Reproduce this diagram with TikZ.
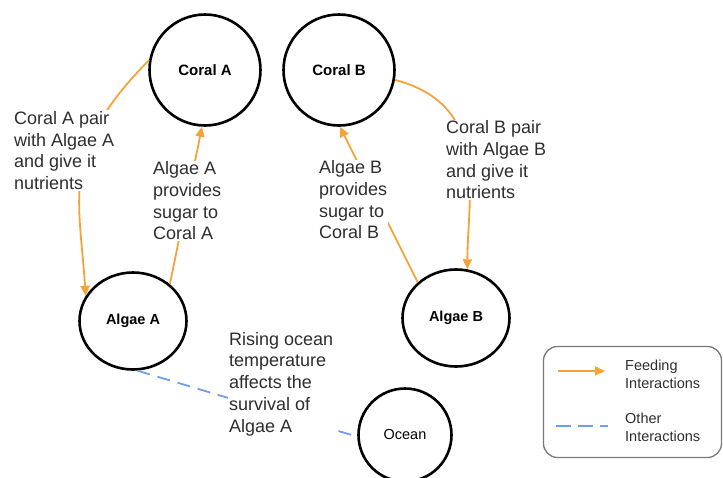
\documentclass[tikz,border=0pt]{standalone}
\usepackage{fontspec}
\setmainfont{Liberation Sans}
\usetikzlibrary{shapes.geometric,arrows.meta}

\definecolor{feed}{HTML}{F4A33A}
\definecolor{other}{HTML}{6D9EEB}
\definecolor{ink}{HTML}{2E2E2E}
\definecolor{frame}{HTML}{7A7A7A}

\begin{document}
\begin{tikzpicture}[x=1pt,y=-1pt,
  coral/.style={draw=black, line width=2.6pt, circle, minimum size=111pt, inner sep=0pt,
    font=\bfseries\fontsize{15}{18}\selectfont},
  alga/.style={draw=black, line width=2.6pt, ellipse, minimum width=107pt, minimum height=97pt,
    inner sep=0pt, font=\bfseries\fontsize{14.5}{17}\selectfont},
  sea/.style={draw=black, line width=2.6pt, circle, minimum size=93pt, inner sep=0pt,
    font=\fontsize{14.5}{17}\selectfont},
  note/.style={fill=white, inner sep=1pt, align=left, anchor=west, text=ink,
    font=\fontsize{18}{21.7}\selectfont},
  keytext/.style={inner sep=0pt, align=left, anchor=west, text=ink,
    font=\fontsize{14.5}{17.7}\selectfont},
  feeding/.style={draw=feed, line width=1.8pt, -{Triangle[length=10pt,width=9pt]}},
  otherline/.style={draw=other, line width=1.8pt, dash pattern=on 13pt off 8pt},
]
\useasboundingbox (0,0) rectangle (723,477);

% organisms
\node[coral] (coralA) at (205,70) {Coral A};
\node[coral] (coralB) at (339,70) {Coral B};
\node[alga]  (algaeA) at (133,321) {Algae A};
\node[alga]  (algaeB) at (456,318) {Algae B};
\node[sea]   (ocean)  at (405,435) {Ocean};

% interactions
\draw[feeding] (coralA.170) .. controls (60,150) and (79,195) .. (algaeA.152);
\draw[feeding] (algaeA.45) -- (coralA.267);
\draw[feeding] (coralB.-10) .. controls (490,105) and (468,190) .. (algaeB.77);
\draw[feeding] (algaeB.137) -- (coralB.271);
\draw[otherline] (algaeA.-85) -- (ocean.182);

% labels on the connectors
\node[note] (pairA) at (13,150.5) {Coral A pair\\with Algae A\\and give it\\nutrients};
\node[note] (sugarA) at (152,201) {Algae A\\provides\\sugar to\\Coral A};
\node[note] (sugarB) at (318,200) {Algae B\\provides\\sugar to\\Coral B};
\node[note] (pairB) at (445,160) {Coral B pair\\with Algae B\\and give it\\nutrients};
\node[note] (warm) at (228,384) {Rising ocean\\temperature\\affects the\\survival of\\Algae A};

% legend
\node[draw=frame, line width=1.3pt, rounded corners=14pt, minimum width=178pt,
  minimum height=111pt, inner sep=0pt] (legend) at (632.5,402) {};
\coordinate (fa) at (558,371);
\coordinate (fb) at (605,371);
\draw[feeding] (fa) -- (fb);
\node[keytext] (feedkey) at (625,374) {Feeding\\Interactions};
\coordinate (oa) at (556,426);
\coordinate (ob) at (608,426);
\draw[otherline, dash pattern=on 15pt off 7pt] (oa) -- (ob);
\node[keytext] (otherkey) at (625,427.5) {Other\\Interactions};
\end{tikzpicture}
\end{document}
